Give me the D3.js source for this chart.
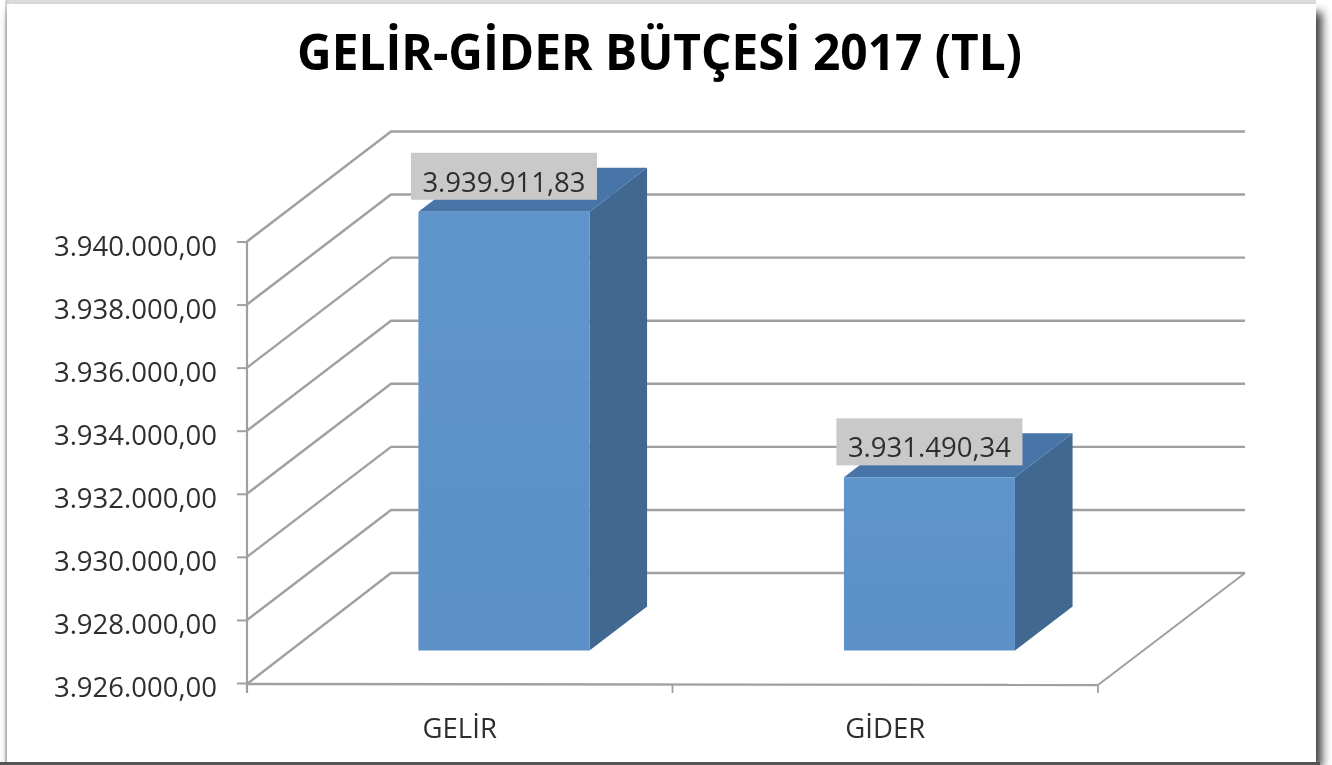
<!DOCTYPE html>
<html><head><meta charset="utf-8">
<script src="https://cdn.jsdelivr.net/npm/d3@7"></script>
<style>html,body{margin:0;padding:0;background:#fff;overflow:hidden}svg{display:block}
text{font-family:"Open Sans",sans-serif;fill:#2e2e2e}</style></head>
<body><svg id="c" width="1332" height="765"></svg>
<script>
const titleText = "GELİR-GİDER BÜTÇESİ 2017 (TL)";
const categories = ["GELİR", "GİDER"];
const values = [3939911.83, 3931490.34];
const tickValues = [3926000, 3928000, 3930000, 3932000, 3934000, 3936000, 3938000, 3940000];

const svg = d3.select("#c");
const defs = svg.append("defs");
defs.append("filter").attr("id","sh").attr("x","-5%").attr("y","-5%").attr("width","110%").attr("height","110%")
  .append("feGaussianBlur").attr("stdDeviation",5);
defs.append("filter").attr("id","soft").attr("filterUnits","userSpaceOnUse").attr("x",0).attr("y",0).attr("width",1332).attr("height",765)
  .append("feGaussianBlur").attr("stdDeviation",0.7);
const fg = defs.append("linearGradient").attr("id","front").attr("x1",0).attr("x2",0).attr("y1",0).attr("y2",1);
fg.append("stop").attr("offset",0).attr("stop-color","#5f95cb");
fg.append("stop").attr("offset",1).attr("stop-color","#5b90c6");

// page frame and its shadow
svg.append("rect").attr("x",0).attr("y",0).attr("width",1332).attr("height",765).attr("fill","#fff");
svg.append("rect").attr("x",5).attr("y",0).attr("width",1311).attr("height",20).attr("fill","#dcdcdc");
svg.append("rect").attr("x",5).attr("y",0).attr("width",4).attr("height",765).attr("fill","#d4d4d4");
svg.append("rect").attr("x",10).attr("y",12).attr("width",1312).attr("height",756).attr("fill","#3c3c3c").attr("filter","url(#sh)");
svg.append("rect").attr("x",0).attr("y",762).attr("width",1320).attr("height",3).attr("fill","#555");
svg.append("rect").attr("x",7).attr("y",4).attr("width",1309).attr("height",758).attr("fill","#fff");

const g = svg.append("g").attr("filter","url(#soft)");

const frontLeft = 247, frontRight = 1098, depthX = 144, depthY = 110;
const y = d3.scaleLinear().domain([3926000, 3940000]).range([683, 241.5]);
const x = d3.scaleBand().domain(categories).range([frontLeft, frontRight]);
const fmt = d3.formatLocale({decimal:",",thousands:".",grouping:[3],currency:["",""]}).format(",.2f");
const lineCol = "#a0a0a0";

// walls: diagonal side-wall lines and back-wall gridlines
g.append("g").selectAll("path").data(tickValues).join("path")
  .attr("fill","none").attr("stroke",lineCol).attr("stroke-width",2.4)
  .attr("d", v => d3.line()([[frontLeft, y(v)+ (v===tickValues[0]?1:0)],[frontLeft+depthX, y(v)-depthY],[frontLeft+998, y(v)-depthY]]));
// floor right edge
g.append("path").attr("fill","none").attr("stroke",lineCol).attr("stroke-width",2)
  .attr("d", d3.line()([[frontRight, y(tickValues[0])+2],[frontLeft+998, y(tickValues[0])-depthY]]));

// value axis
const yAxis = g.append("g").attr("transform",`translate(${frontLeft},0)`)
  .call(d3.axisLeft(y).tickValues(tickValues).tickSize(10).tickPadding(20).tickFormat(fmt));
yAxis.select(".domain").attr("stroke",lineCol).attr("stroke-width",2.2).attr("d",`M0,${y(3940000)}V693`);
yAxis.selectAll(".tick line").attr("stroke",lineCol).attr("stroke-width",2);
yAxis.selectAll(".tick text").attr("font-size",27.5).attr("font-family",'"Open Sans",sans-serif').attr("dy","0.5em").attr("fill","#2e2e2e");

// category axis
const base = y(tickValues[0]);
g.append("path").attr("fill","none").attr("stroke",lineCol).attr("stroke-width",2.4)
  .attr("d", d3.line()([[frontLeft, base+1],[frontRight, base+2]]));
const xTicks = [...categories.map(c => x(c)), frontRight];
g.append("g").selectAll("line").data(xTicks).join("line")
  .attr("x1",d=>d).attr("x2",d=>d).attr("y1",base+2).attr("y2",693)
  .attr("stroke",lineCol).attr("stroke-width",1.8);

// bars
const t0 = 0.3, t1 = 0.7, barFrac = 0.402;
const bars = g.append("g").selectAll("g").data(categories.map((c,i)=>({c, v:values[i]}))).join("g");
const geom = d => {
  const bw = x.bandwidth()*barFrac;
  const xl = x(d.c)+(x.bandwidth()-bw)/2 + depthX*t0 + 1, xr = xl+bw;
  const dx = depthX*(t1-t0), dy = depthY*(t1-t0);
  const top = y(d.v)-depthY*t0 + 0.5, bot = base-depthY*t0 + 0.5;
  return {xl,xr,dx,dy,top,bot};
};
bars.append("path").attr("fill","#3f6791").attr("d", d=>{const b=geom(d);
  return d3.line()([[b.xr,b.top],[b.xr+b.dx,b.top-b.dy],[b.xr+b.dx,b.bot-b.dy],[b.xr,b.bot]])+"Z";});
bars.append("path").attr("fill","#4675a8").attr("d", d=>{const b=geom(d);
  return d3.line()([[b.xl,b.top],[b.xl+b.dx,b.top-b.dy],[b.xr+b.dx,b.top-b.dy],[b.xr,b.top]])+"Z";});
bars.append("path").attr("fill","url(#front)").attr("d", d=>{const b=geom(d);
  return d3.line()([[b.xl,b.top],[b.xr,b.top],[b.xr,b.bot],[b.xl,b.bot]])+"Z";});

// data labels
const lab = g.append("g").selectAll("g").data(categories.map((c,i)=>({c, v:values[i]}))).join("g");
lab.append("rect").attr("fill","#c9c9c9").attr("height",47).attr("width",186)
  .attr("x", d=>{const b=geom(d);return (b.xl+b.xr)/2-93;})
  .attr("y", d=>geom(d).top-59);
lab.append("text").attr("text-anchor","middle").attr("font-size",27.5)
  .attr("x", d=>{const b=geom(d);return (b.xl+b.xr)/2;})
  .attr("y", d=>geom(d).top-20)
  .text(d=>fmt(d.v));

// category labels
g.append("g").selectAll("text").data(categories).join("text")
  .attr("text-anchor","middle").attr("font-size",27.5)
  .attr("x",c=>x(c)+x.bandwidth()/2).attr("y",738).text(c=>c);

// title
g.append("text").attr("x",659.5).attr("y",70).attr("text-anchor","middle")
  .attr("font-size",50).attr("font-weight",700).attr("fill","#000").style("fill","#000")
  .attr("textLength",725).attr("lengthAdjust","spacingAndGlyphs").text(titleText);
</script></body></html>
